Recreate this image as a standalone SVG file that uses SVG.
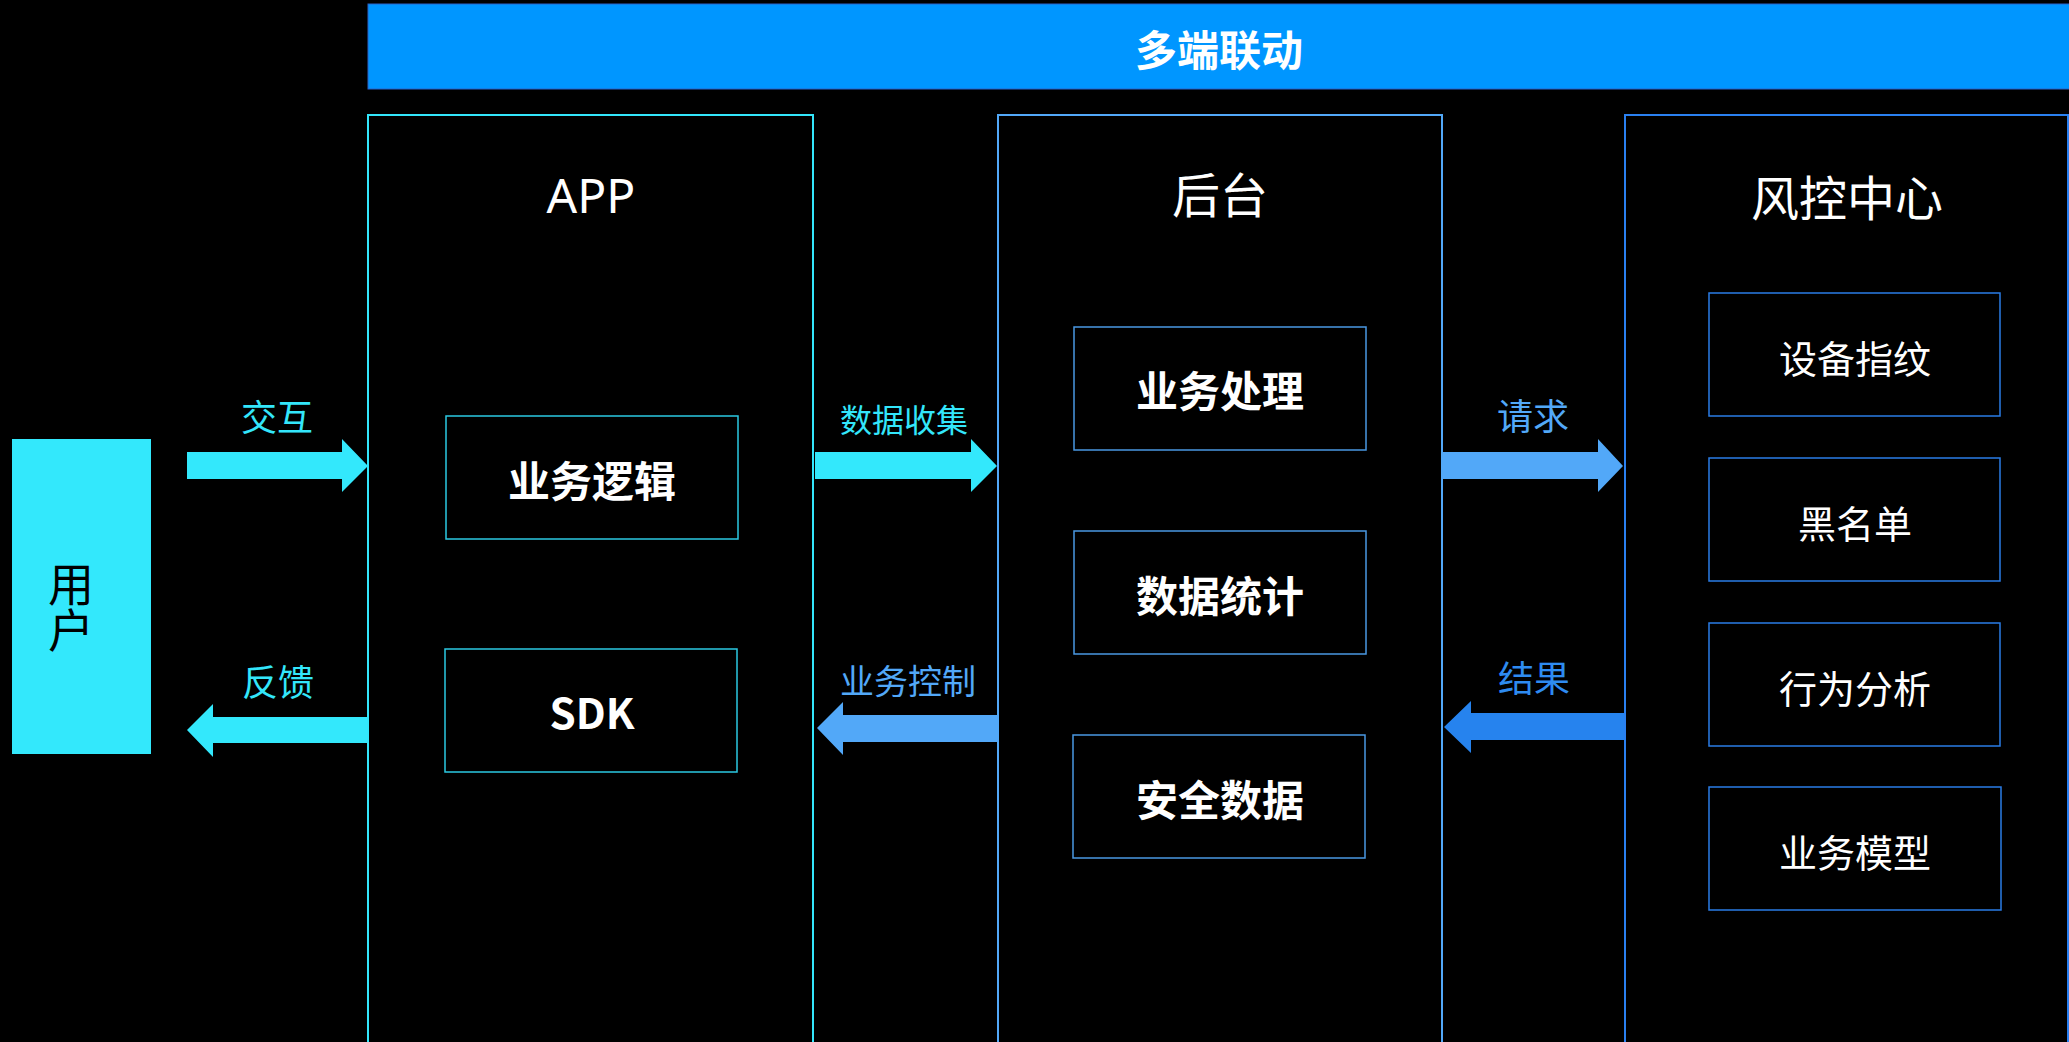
<svg xmlns="http://www.w3.org/2000/svg" width="2069" height="1042" viewBox="0 0 2069 1042">
<style>
text{font-family:"Noto Sans CJK SC","Noto Sans",sans-serif;text-anchor:middle;dominant-baseline:central}
.title{fill:#fff;font-size:48px}
.sub{fill:#fff;font-size:42px;font-weight:bold}
.sub2{fill:#fff;font-size:38px}
.main{fill:#000;stroke-width:2}
.box{fill:#000;stroke-width:1.5}
</style>
<rect x="0" y="0" width="2069" height="1042" fill="#000"/>
<g id="banner">
<rect x="368" y="4" width="1702" height="85" fill="#0096FF" stroke="#2A62C8" stroke-width="1"/>
<text x="1219" y="47" fill="#fff" font-size="42" font-weight="bold">多端联动</text>
</g>
<g id="user">
<rect x="12" y="439" width="139" height="315" fill="#33E8FC"/>
<text x="71" y="607" fill="#000" font-size="46" writing-mode="vertical-rl">用户</text>
</g>
<g id="app">
<rect class="main" x="368" y="115" width="445" height="940" stroke="#33E6FB"/>
<text class="title" x="591" y="194" font-size="50" style="font-family:'Noto Sans','Noto Sans CJK SC',sans-serif">APP</text>
</g>
<g id="app-logic">
<rect class="box" x="446" y="416" width="292" height="123" stroke="#2BC9E2"/>
<text class="sub" x="592" y="478">业务逻辑</text>
</g>
<g id="app-sdk">
<rect class="box" x="445" y="649" width="292" height="123" stroke="#2BC9E2"/>
<text class="sub" x="592" y="710" font-size="44">SDK</text>
</g>
<g id="backend">
<rect class="main" x="998" y="115" width="444" height="940" stroke="#52A8F8"/>
<text class="title" x="1220" y="192">后台</text>
</g>
<g id="be-process">
<rect class="box" x="1074" y="327" width="292" height="123" stroke="#4A98E2"/>
<text class="sub" x="1220" y="388">业务处理</text>
</g>
<g id="be-stats">
<rect class="box" x="1074" y="531" width="292" height="123" stroke="#4A98E2"/>
<text class="sub" x="1220" y="593">数据统计</text>
</g>
<g id="be-security">
<rect class="box" x="1073" y="735" width="292" height="123" stroke="#4A98E2"/>
<text class="sub" x="1220" y="797">安全数据</text>
</g>
<g id="risk">
<rect class="main" x="1625" y="115" width="443" height="940" stroke="#2A80F0"/>
<text class="title" x="1847" y="195">风控中心</text>
</g>
<g id="risk-device">
<rect class="box" x="1709" y="293" width="291" height="123" stroke="#2A7CE6"/>
<text class="sub2" x="1855" y="356">设备指纹</text>
</g>
<g id="risk-blacklist">
<rect class="box" x="1709" y="458" width="291" height="123" stroke="#2A7CE6"/>
<text class="sub2" x="1855" y="521">黑名单</text>
</g>
<g id="risk-behavior">
<rect class="box" x="1709" y="623" width="291" height="123" stroke="#2A7CE6"/>
<text class="sub2" x="1855" y="686">行为分析</text>
</g>
<g id="risk-model">
<rect class="box" x="1709" y="787" width="292" height="123" stroke="#2A7CE6"/>
<text class="sub2" x="1855" y="850">业务模型</text>
</g>
<g id="connectors">
<polygon points="187,452 342,452 342,439 368,466 342,492 342,479 187,479" fill="#33E8FC"/>
<text x="277" y="415" fill="#33E6FB" font-size="36">交互</text>
<polygon points="367,717 213,717 213,704 187,730 213,757 213,743 367,743" fill="#33E8FC"/>
<text x="278" y="680" fill="#33E6FB" font-size="36">反馈</text>
<polygon points="815,452 971,452 971,439 997,466 971,492 971,479 815,479" fill="#33E8FC"/>
<text x="904" y="418" fill="#33E6FB" font-size="32">数据收集</text>
<polygon points="997,715 843,715 843,702 817,728 843,755 843,742 997,742" fill="#52A8F8"/>
<text x="908" y="679" fill="#52A8F8" font-size="34">业务控制</text>
<polygon points="1443,452 1598,452 1598,439 1623,466 1598,492 1598,479 1443,479" fill="#52A8F8"/>
<text x="1533" y="414" fill="#52A8F8" font-size="36">请求</text>
<polygon points="1624,713 1471,713 1471,701 1444,727 1471,753 1471,740 1624,740" fill="#2683EE"/>
<text x="1534" y="676" fill="#2E8BF0" font-size="36">结果</text>
</g>
</svg>
